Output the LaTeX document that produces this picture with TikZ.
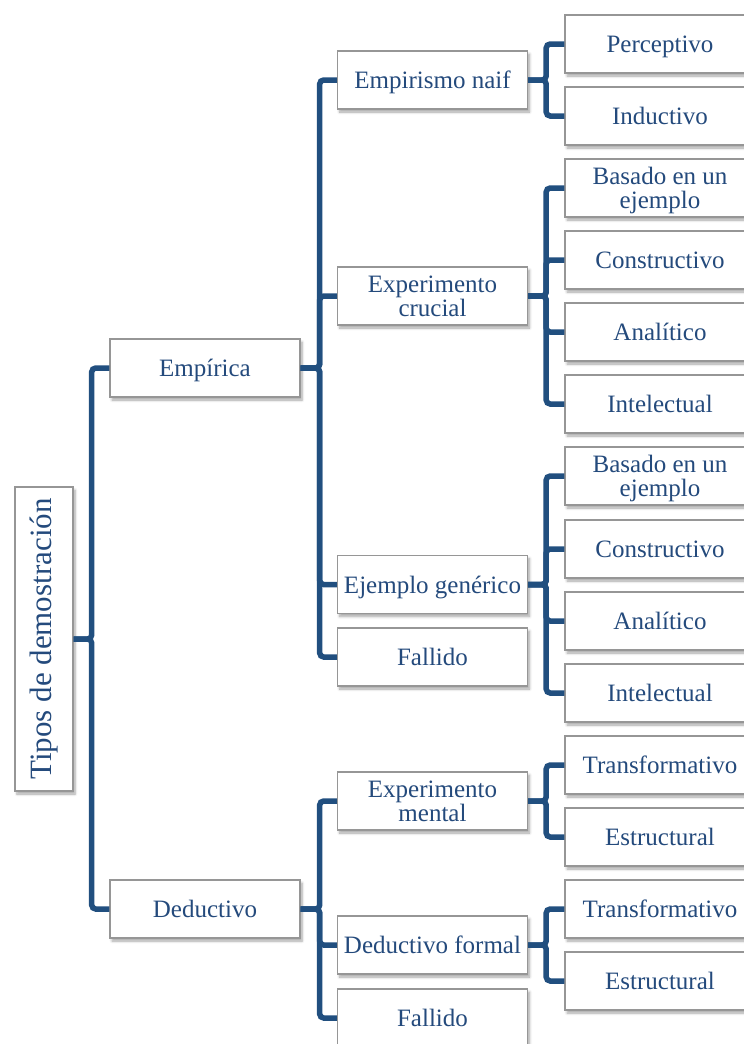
\documentclass[tikz,border=0pt]{standalone}
\usepackage{fontspec}
\setmainfont{Liberation Serif}
\usetikzlibrary{shadows.blur}
\definecolor{txtblue}{RGB}{36,74,124}
\definecolor{lineblue}{RGB}{33,79,127}
\definecolor{boxgray}{RGB}{150,150,150}
\tikzset{
  box/.style={draw=boxgray, line width=1.4pt, fill=white, text=txtblue,
    minimum width=190pt, minimum height=58pt, inner sep=1pt, align=center,
    text depth=0pt,
    font=\fontsize{25}{24}\selectfont,
    blur shadow={shadow xshift=2pt, shadow yshift=-3pt, shadow opacity=35, shadow blur steps=6, shadow blur radius=2.5pt}},
  conn/.style={draw=lineblue, line width=5.5pt, rounded corners=4pt},
}
\begin{document}
\begin{tikzpicture}[x=1pt,y=-1pt]
\useasboundingbox (0,0) rectangle (744,1044);
\clip (0,0) rectangle (744,1044);
% root
\node[box, minimum width=58pt, minimum height=304pt, font=\fontsize{31}{31}\selectfont] (root) at (44,639) {\rotatebox{90}{Tipos de demostración}};
% level 1
\node[box] (emp) at (205,368) {Empírica};
\node[box] (ded) at (205,909) {Deductivo};
% level 2
\node[box] (en) at (432.5,80) {Empirismo naif};
\node[box] (ec) at (432.5,296) {Experimento\\crucial};
\node[box] (eg) at (432.5,584.5) {Ejemplo genérico};
\node[box] (f1) at (432.5,657) {Fallido};
\node[box] (em) at (432.5,801) {Experimento\\mental};
\node[box] (df) at (432.5,945) {Deductivo formal};
\node[box] (f2) at (432.5,1018) {Fallido};
% level 3
\node[box] (a1) at (660,44) {Perceptivo};
\node[box] (a2) at (660,116) {Inductivo};
\node[box] (b1) at (660,188) {Basado en un\\ejemplo};
\node[box] (b2) at (660,260) {Constructivo};
\node[box] (b3) at (660,332) {Analítico};
\node[box] (b4) at (660,404) {Intelectual};
\node[box] (c1) at (660,476) {Basado en un\\ejemplo};
\node[box] (c2) at (660,549) {Constructivo};
\node[box] (c3) at (660,621) {Analítico};
\node[box] (c4) at (660,693) {Intelectual};
\node[box] (d1) at (660,765) {Transformativo};
\node[box] (d2) at (660,837) {Estructural};
\node[box] (e1) at (660,909) {Transformativo};
\node[box] (e2) at (660,981) {Estructural};
% connectors
\foreach \c in {emp,ded} \draw[conn] (root.east) -- ++(18,0) |- (\c.west);
\foreach \c in {en,ec,eg,f1} \draw[conn] (emp.east) -- ++(19,0) |- (\c.west);
\foreach \c in {em,df,f2} \draw[conn] (ded.east) -- ++(19,0) |- (\c.west);
\foreach \c in {a1,a2} \draw[conn] (en.east) -- ++(18,0) |- (\c.west);
\foreach \c in {b1,b2,b3,b4} \draw[conn] (ec.east) -- ++(18,0) |- (\c.west);
\foreach \c in {c1,c2,c3,c4} \draw[conn] (eg.east) -- ++(18,0) |- (\c.west);
\foreach \c in {d1,d2} \draw[conn] (em.east) -- ++(18,0) |- (\c.west);
\foreach \c in {e1,e2} \draw[conn] (df.east) -- ++(18,0) |- (\c.west);
\end{tikzpicture}
\end{document}
